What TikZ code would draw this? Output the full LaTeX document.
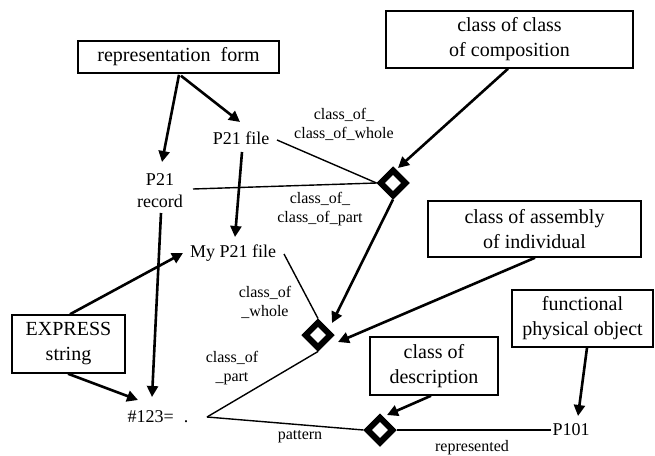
\documentclass[tikz,border=0pt]{standalone}
\usepackage{fontspec}
\setmainfont{Liberation Serif}
\usetikzlibrary{shapes.geometric,arrows.meta,calc}
\begin{document}
\begin{tikzpicture}[x=1pt,y=-1pt,
  box/.style={draw,line width=1.5pt,align=center,font=\fontsize{20}{25}\selectfont,inner sep=0pt},
  term/.style={align=center,font=\fontsize{18}{22}\selectfont,inner sep=1pt},
  lab/.style={align=center,font=\fontsize{16}{19}\selectfont,inner sep=1pt},
  dia/.style={diamond,draw,fill=white,line width=6pt,minimum width=27pt,minimum height=27pt,inner sep=0pt},
  thickarrow/.style={line width=2.6pt,-{Triangle[length=11pt,width=11pt]}},
  thin/.style={line width=1.4pt}]
\path[fill=white,use as bounding box] (0,0) rectangle (655,455);

% boxes
\node[box,minimum width=201pt,minimum height=32pt] (rep) at (178.5,57) {representation\ \ form};
\node[box,minimum width=247pt,minimum height=57pt] (coc) at (509.5,39.5) {class of class\\of composition};
\node[box,minimum width=213pt,minimum height=56pt] (coa) at (534.5,229) {class of assembly\\of individual};
\node[box,minimum width=141pt,minimum height=57pt] (fpo) at (582.5,318.5) {functional\\physical object};
\node[box,minimum width=128pt,minimum height=58pt] (cod) at (434,366) {class of\\description};
\node[box,minimum width=113pt,minimum height=58pt] (exp) at (68.5,344) {EXPRESS\\string};

% terms
\node[term] (rec) at (160,191) {P21\\record};
\node[term] (file) at (241,138) {P21 file};
\node[term] (my) at (233,253) {My P21 file};
\node[term] (h) at (158,417) {\#123=\hspace{10pt}.};
\node[term] (p101) at (571,430) {P101};

% diamonds
\node[dia] (d1) at (393,183) {};
\node[dia] (d2) at (318,335) {};
\node[dia] (d3) at (380,430) {};

% thin connectors
\draw[thin] ($(file)+(36,2)$) -- (d1.west);
\draw[thin] ($(rec)+(33,-2)$) -- (d1.west);
\draw[thin] ($(my)+(51,1)$) -- (d2.north);
\draw[thin] ($(h)+(49,0)$) -- (d2.south);
\draw[thin] ($(h)+(49,0)$) -- (d3.west);
\draw[thin] (d3.east) -- (p101.west);

% thick arrows
\draw[thickarrow] ($(rep.south)+(0.5,1)$) -- ($(rec)+(2,-29)$);
\draw[thickarrow] ($(rep.south)+(2.5,2)$) -- ($(file)+(-1,-16)$);
\draw[thickarrow] ($(file)+(1,14)$) -- ($(my)+(2,-16)$);
\draw[thickarrow] ($(rec)+(1,22)$) -- ($(h)+(-6,-20)$);
\draw[thickarrow] ($(exp.north)+(1.5,0)$) -- ($(my)+(-50,0)$);
\draw[thickarrow] ($(exp.south)+(-0.5,0)$) -- ($(h)+(-20,-17)$);
\draw[thickarrow] ($(coc.south)+(-1.5,0)$) -- ($(d1)+(5,-15)$);
\draw[thickarrow] (d1.south) -- ($(d2)+(14,-12)$);
\draw[thickarrow] ($(coa.south)+(0.5,0)$) -- ($(d2)+(20,7)$);
\draw[thickarrow] ($(cod.south)+(-3,0)$) -- ($(d3)+(7,-15)$);
\draw[thickarrow] ($(fpo.south)+(4.5,0)$) -- ($(p101)+(7,-14)$);

% redraw diamonds on top
\node[dia] at (d1) {};
\node[dia] at (d2) {};
\node[dia] at (d3) {};

% labels
\node[lab] (l1) at (344,124) {class\_of\_\\class\_of\_whole};
\node[lab] (l2) at (320,209) {class\_of\_\\class\_of\_part};
\node[lab] (l3) at (265,302) {class\_of\\\_whole};
\node[lab] (l4) at (232,368) {class\_of\\\_part};
\node[lab] (l5) at (300,437) {pattern};
\node[lab] (l6) at (472,448) {represented};
\end{tikzpicture}
\end{document}
